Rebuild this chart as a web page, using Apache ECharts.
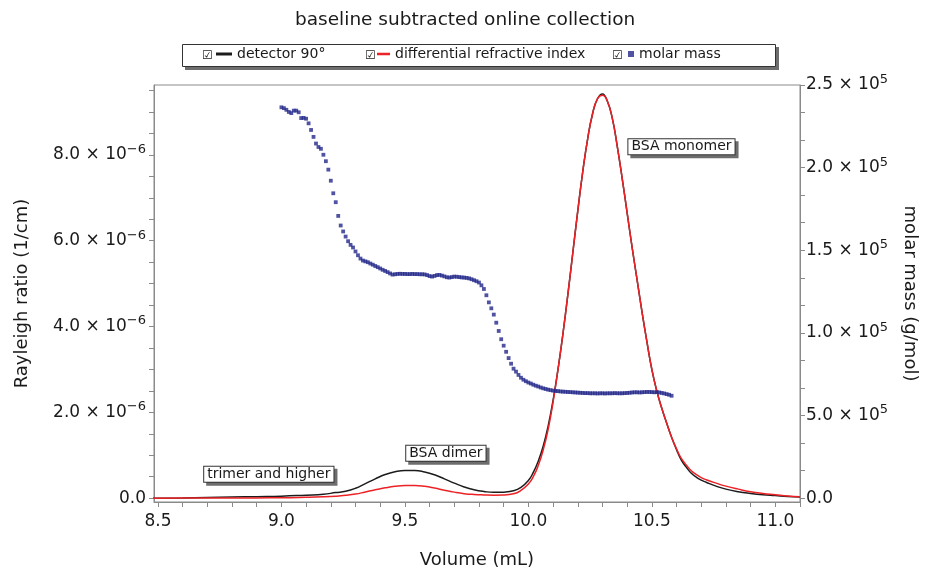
<!DOCTYPE html>
<html>
<head>
<meta charset="utf-8">
<script src="https://cdn.jsdelivr.net/npm/echarts@6/dist/echarts.min.js"></script>
<style>
  html, body { margin: 0; padding: 0; background: #ffffff; }
  #chart { width: 929px; height: 576px; }
</style>
</head>
<body>
<div id="chart"></div>
<script>
// Rayleigh ratio values are stored in units of 1e-6 1/cm
const RR_UNIT = 1e-6;

// Elution volume (mL) for the light-scattering and dRI traces
const signalVolume = [
  8.48, 8.60, 8.70, 8.80, 8.90, 9.00, 9.10, 9.17, 9.22, 9.26, 9.30, 9.34, 9.38, 9.42, 9.46,
  9.50, 9.54, 9.58, 9.62, 9.66, 9.70, 9.74, 9.78, 9.82, 9.86, 9.90, 9.94, 9.97, 10.00,
  10.02, 10.04, 10.06, 10.08, 10.10, 10.12, 10.14, 10.16, 10.18, 10.20, 10.22, 10.24, 10.26,
  10.28, 10.30, 10.32, 10.34, 10.36, 10.38, 10.40, 10.42, 10.44, 10.46, 10.48, 10.50, 10.52,
  10.54, 10.56, 10.58, 10.60, 10.62, 10.64, 10.66, 10.68, 10.70, 10.72, 10.76, 10.80, 10.85,
  10.90, 10.95, 11.00, 11.05, 11.10
];

// detector 90° (x 1e-6 1/cm)
const detector90 = [
  0.000, 0.005, 0.015, 0.025, 0.035, 0.045, 0.070, 0.090, 0.130, 0.160, 0.230, 0.340, 0.450, 0.550, 0.615,
  0.645, 0.645, 0.610, 0.545, 0.450, 0.350, 0.260, 0.195, 0.155, 0.135, 0.140, 0.170, 0.250, 0.410,
  0.600, 0.860, 1.210, 1.680, 2.280, 3.000, 3.830, 4.750, 5.720, 6.690, 7.600, 8.370, 8.960,
  9.310, 9.420, 9.250, 8.850, 8.200, 7.450, 6.650, 5.850, 5.100, 4.350, 3.650, 3.000, 2.500,
  2.100, 1.750, 1.420, 1.130, 0.880, 0.720, 0.580, 0.490, 0.420, 0.370, 0.280, 0.210, 0.150,
  0.110, 0.080, 0.060, 0.040, 0.025
];

// differential refractive index, scaled to the same axis (x 1e-6)
const refractiveIndex = [
  0.000, 0.002, 0.003, 0.005, 0.006, 0.008, 0.018, 0.030, 0.045, 0.065, 0.095, 0.145, 0.195, 0.240, 0.275,
  0.293, 0.293, 0.275, 0.235, 0.185, 0.140, 0.105, 0.085, 0.075, 0.070, 0.072, 0.100, 0.180, 0.330,
  0.500, 0.760, 1.120, 1.600, 2.240, 3.000, 3.830, 4.750, 5.720, 6.690, 7.600, 8.370, 8.960,
  9.310, 9.390, 9.250, 8.850, 8.200, 7.450, 6.650, 5.850, 5.100, 4.350, 3.650, 3.000, 2.500,
  2.100, 1.750, 1.420, 1.150, 0.920, 0.770, 0.640, 0.550, 0.480, 0.430, 0.350, 0.280, 0.210,
  0.150, 0.110, 0.080, 0.050, 0.030
];

// Elution volume (mL) of each molar-mass slice
const massVolume = [
  9.00, 9.01, 9.02, 9.03, 9.04, 9.05, 9.06, 9.07, 9.08, 9.09,
  9.10, 9.11, 9.12, 9.13, 9.14, 9.15, 9.16, 9.17, 9.18, 9.19,
  9.20, 9.21, 9.22, 9.23, 9.24, 9.25, 9.26, 9.27, 9.28, 9.29,
  9.30, 9.31, 9.32, 9.33, 9.34, 9.35, 9.36, 9.37, 9.38, 9.39,
  9.40, 9.41, 9.42, 9.43, 9.44, 9.45, 9.46, 9.47, 9.48, 9.49,
  9.50, 9.51, 9.52, 9.53, 9.54, 9.55, 9.56, 9.57, 9.58, 9.59,
  9.60, 9.61, 9.62, 9.63, 9.64, 9.65, 9.66, 9.67, 9.68, 9.69,
  9.70, 9.71, 9.72, 9.73, 9.74, 9.75, 9.76, 9.77, 9.78, 9.79,
  9.80, 9.81, 9.82, 9.83, 9.84, 9.85, 9.86, 9.87, 9.88, 9.89,
  9.90, 9.91, 9.92, 9.93, 9.94, 9.95, 9.96, 9.97, 9.98, 9.99,
  10.00, 10.01, 10.02, 10.03, 10.04, 10.05, 10.06, 10.07, 10.08, 10.09,
  10.10, 10.11, 10.12, 10.13, 10.14, 10.15, 10.16, 10.17, 10.18, 10.19,
  10.20, 10.21, 10.22, 10.23, 10.24, 10.25, 10.26, 10.27, 10.28, 10.29,
  10.30, 10.31, 10.32, 10.33, 10.34, 10.35, 10.36, 10.37, 10.38, 10.39,
  10.40, 10.41, 10.42, 10.43, 10.44, 10.45, 10.46, 10.47, 10.48, 10.49,
  10.50, 10.51, 10.52, 10.53, 10.54, 10.55, 10.56, 10.57, 10.58
];

// molar mass (g/mol)
const molarMass = [
  236500, 236000, 235000, 233700, 233000, 234500, 234500, 233500, 230000, 230100,
  229600, 226800, 222800, 218600, 214600, 212500, 211400, 207800, 203900, 198800,
  192100, 184500, 179100, 170800, 165000, 161400, 158300, 155500, 153300, 151700,
  149300, 147000, 145000, 143800, 143300, 142800, 142000, 141300, 140500, 139800,
  139000, 138200, 137500, 136800, 136000, 135300, 135500, 135700, 135800, 135700,
  135700, 135600, 135600, 135700, 135600, 135600, 135500, 135500, 135400, 135000,
  134400, 134100, 134500, 135000, 135100, 134700, 134200, 133700, 133500, 133800,
  134100, 134000, 133800, 133600, 133500, 133300, 133000, 132500, 131900, 131300,
  130500, 128800, 126600, 122800, 118500, 114900, 111100, 106200, 101200, 96200,
  92300, 88600, 84800, 81400, 78400, 76600, 74600, 72900, 71700, 70800,
  70000, 69400, 68700, 68100, 67600, 67000, 66500, 66100, 65700, 65400,
  65100, 64900, 64800, 64600, 64500, 64400, 64300, 64200, 64100, 64000,
  63900, 63800, 63700, 63600, 63600, 63500, 63500, 63500, 63400, 63500,
  63500, 63400, 63500, 63500, 63500, 63600, 63500, 63500, 63500, 63600,
  63700, 63800, 64000, 64100, 64100, 64000, 64100, 64200, 64300, 64300,
  64200, 64100, 64200, 64000, 63700, 63400, 63000, 62600, 62000
];

// Axis ticks and labels
const volumeLabelValues = [8.5, 9.0, 9.5, 10.0, 10.5, 11.0];
const volumeTickValues = [
  8.5, 8.6, 8.7, 8.8, 8.9, 9.0, 9.1, 9.2, 9.3, 9.4, 9.5, 9.6, 9.7, 9.8, 9.9,
  10.0, 10.1, 10.2, 10.3, 10.4, 10.5, 10.6, 10.7, 10.8, 10.9, 11.0, 11.1
];
const rayleighLabelValues = [0, 2, 4, 6, 8];                 // x 1e-6
const rayleighLabelText = ['0.0', '2.0', '4.0', '6.0', '8.0'];
const rayleighTickValues = [0, 0.5, 1, 1.5, 2, 2.5, 3, 3.5, 4, 4.5, 5, 5.5, 6, 6.5, 7, 7.5, 8, 8.5, 9, 9.5];
const massLabelValues = [0, 50000, 100000, 150000, 200000, 250000];
const massLabelText = ['0.0', '5.0', '1.0', '1.5', '2.0', '2.5'];
const massTickValues = [
  0, 16667, 33333, 50000, 66667, 83333, 100000, 116667, 133333, 150000,
  166667, 183333, 200000, 216667, 233333, 250000
];

// Peak annotations: [volume, Rayleigh ratio x 1e-6, text]
const peakNotes = [
  [10.62, 8.19, 'BSA monomer'],
  [9.666, 1.045, 'BSA dimer'],
  [8.949, 0.555, 'trimer and higher']
];

const FONT = 'DejaVu Sans';
const TEXT = '#1a1a1a';
const FRAME = '#8a8a8a';
const BLUE = '#23288a';
const SHADOW = '#6e6e6e';

const zip = (xs, ys, k) => xs.map((x, i) => [x, ys[i] * k]);

function sciLabel(value, values, texts, exponent, scale) {
  let idx = 0;
  values.forEach((v, i) => { if (Math.abs(v * scale - value) < Math.abs(values[idx] * scale - value)) idx = i; });
  if (values[idx] === 0) return '{m|0.0}';
  return '{m|' + texts[idx] + ' \u00d7 10}{e|' + exponent + '}';
}

const labelRich = {
  m: { fontFamily: FONT, fontSize: 17, color: TEXT, lineHeight: 24 },
  e: { fontFamily: FONT, fontSize: 13, color: TEXT, lineHeight: 17, verticalAlign: 'top' }
};

// Annotation box: a flat offset shadow underneath, then the framed text on top
const noteLabel = {
  show: true, position: 'inside', formatter: p => p.name,
  fontFamily: FONT, fontSize: 14, color: TEXT,
  backgroundColor: '#ffffff', borderColor: '#333333', borderWidth: 1,
  padding: [1, 3, 0, 3]
};
const noteShadowLabel = Object.assign({}, noteLabel, {
  color: 'rgba(0,0,0,0)', backgroundColor: SHADOW, borderColor: SHADOW, offset: [3, 3]
});
const noteData = [];
peakNotes.forEach(n => {
  noteData.push({ name: n[2], coord: [n[0], n[1] * RR_UNIT], label: noteShadowLabel });
});
peakNotes.forEach(n => {
  noteData.push({ name: n[2], coord: [n[0], n[1] * RR_UNIT], label: noteLabel });
});

const chart = echarts.init(document.getElementById('chart'), null, { renderer: 'canvas' });

const legendBase = {
  orient: 'horizontal', padding: 0, itemGap: 0, top: 47, selectedMode: false,
  icon: 'rect',
  textStyle: { fontFamily: FONT, fontSize: 14, color: TEXT }
};

const checkBox = x => ({
  type: 'text', x: x, y: 56,
  style: { text: '\u2611', fontFamily: FONT, fontSize: 12, fill: '#222', verticalAlign: 'middle' }
});

chart.setOption({
  animation: false,
  backgroundColor: '#ffffff',
  title: {
    text: 'baseline subtracted online collection',
    left: 295, top: 11, padding: 0,
    textStyle: { fontFamily: FONT, fontSize: 18.5, fontWeight: 'normal', color: TEXT }
  },
  legend: [
    Object.assign({}, legendBase, { data: ['detector 90°'], left: 216, itemWidth: 16, itemHeight: 3 }),
    Object.assign({}, legendBase, { data: ['differential refractive index'], left: 377, itemWidth: 13, itemHeight: 2.5 }),
    Object.assign({}, legendBase, { data: ['molar mass'], left: 628, itemWidth: 6, itemHeight: 6 })
  ],
  graphic: [
    {
      type: 'rect', z: -10,
      shape: { x: 185, y: 47, width: 594, height: 23 },
      style: { fill: SHADOW }
    },
    {
      type: 'rect', z: -9,
      shape: { x: 182.5, y: 44.5, width: 593, height: 22 },
      style: { fill: '#ffffff', stroke: '#333333', lineWidth: 1 }
    },
    checkBox(202),
    checkBox(365),
    checkBox(612)
  ],
  grid: {
    left: 154, right: 129, top: 85, bottom: 74,
    show: true, borderColor: FRAME, borderWidth: 1, backgroundColor: 'transparent',
    containLabel: false, outerBoundsMode: 'none'
  },
  xAxis: {
    type: 'value', min: 8.484, max: 11.1,
    name: 'Volume (mL)', nameLocation: 'middle', nameGap: 49,
    nameTextStyle: { fontFamily: FONT, fontSize: 18, color: TEXT },
    axisLine: { show: true, onZero: false, lineStyle: { color: FRAME, width: 1 } },
    axisTick: { show: true, inside: false, length: 5, customValues: volumeTickValues, lineStyle: { color: FRAME } },
    axisLabel: {
      customValues: volumeLabelValues, margin: 11,
      fontFamily: FONT, fontSize: 17, color: TEXT,
      formatter: v => v.toFixed(1)
    },
    splitLine: { show: false }
  },
  yAxis: [
    {
      type: 'value', position: 'left', min: -0.09 * RR_UNIT, max: 9.63 * RR_UNIT,
      name: 'Rayleigh ratio (1/cm)', nameLocation: 'middle', nameGap: 123, nameRotate: 90,
      nameTextStyle: { fontFamily: FONT, fontSize: 18, color: TEXT },
      axisLine: { show: true, onZero: false, lineStyle: { color: FRAME, width: 1 } },
      axisTick: { show: true, length: 5, customValues: rayleighTickValues.map(v => v * RR_UNIT), lineStyle: { color: FRAME } },
      axisLabel: {
        customValues: rayleighLabelValues.map(v => v * RR_UNIT), margin: 8,
        formatter: v => sciLabel(v, rayleighLabelValues, rayleighLabelText, '\u22126', RR_UNIT),
        rich: labelRich
      },
      splitLine: { show: false }
    },
    {
      type: 'value', position: 'right', min: -2270, max: 250000,
      name: 'molar mass (g/mol)', nameLocation: 'middle', nameGap: 101, nameRotate: -90,
      nameTextStyle: { fontFamily: FONT, fontSize: 18, color: TEXT },
      axisLine: { show: true, onZero: false, lineStyle: { color: FRAME, width: 1 } },
      axisTick: { show: true, length: 5, customValues: massTickValues, lineStyle: { color: FRAME } },
      axisLabel: {
        customValues: massLabelValues, margin: 6,
        formatter: v => sciLabel(v, massLabelValues, massLabelText, '5', 1),
        rich: labelRich
      },
      splitLine: { show: false }
    }
  ],
  series: [
    {
      name: 'detector 90°', type: 'line', yAxisIndex: 0, z: 2,
      data: zip(signalVolume, detector90, RR_UNIT),
      showSymbol: false, symbol: 'none', smooth: 0.5,
      itemStyle: { color: '#1c1c1c' },
      lineStyle: { color: '#1c1c1c', width: 1.5 },
      markPoint: {
        symbol: 'rect', symbolSize: 1,
        itemStyle: { color: 'rgba(0,0,0,0)' },
        data: noteData
      }
    },
    {
      name: 'differential refractive index', type: 'line', yAxisIndex: 0, z: 3,
      data: zip(signalVolume, refractiveIndex, RR_UNIT),
      showSymbol: false, symbol: 'none', smooth: 0.5,
      itemStyle: { color: '#ec2227' },
      lineStyle: { color: '#ec2227', width: 1.5 }
    },
    {
      name: 'molar mass', type: 'scatter', yAxisIndex: 1, z: 4,
      data: zip(massVolume, molarMass, 1),
      symbol: 'rect', symbolSize: 3.8,
      itemStyle: { color: BLUE }
    }
  ]
});
</script>
</body>
</html>
